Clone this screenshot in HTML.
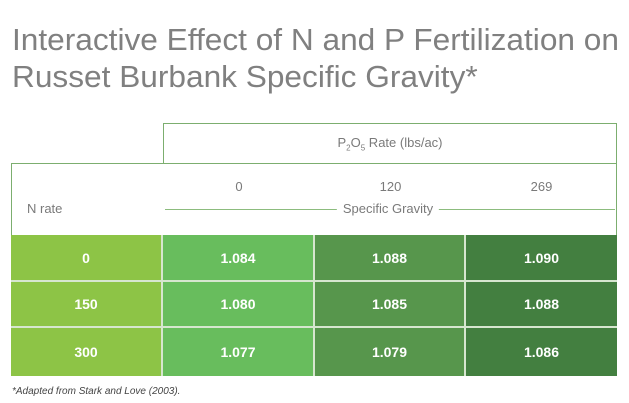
<!DOCTYPE html>
<html><head><meta charset="utf-8"><style>
body{margin:0;width:629px;height:403px;background:#fff;font-family:"Liberation Sans",sans-serif;position:relative;overflow:hidden}
.t{position:absolute;left:12px;font-size:31px;color:#808080;white-space:nowrap;transform:scaleX(1.02);transform-origin:left top;font-weight:300}
.abs{position:absolute}
.lbl{position:absolute;color:#7a7a7a;font-size:13px;white-space:nowrap;transform:translateX(-50%)}
.cell{position:absolute;color:#fff;font-size:14px;font-weight:bold;display:flex;align-items:center;justify-content:center;box-sizing:border-box;border-right:2px solid #d6e6cf;border-bottom:2px solid #d6e6cf}
</style></head><body>
<div class="t" style="top:22px">Interactive Effect of N and P Fertilization on</div>
<div class="t" style="top:59px">Russet Burbank Specific Gravity*</div>
<div class="abs" style="left:163px;top:123px;width:452px;height:40px;border:1px solid #7cae6f;border-bottom:none"></div>
<div class="lbl" style="left:390px;top:135px">P<sub style="font-size:8px">2</sub>O<sub style="font-size:8px">5</sub> Rate (lbs/ac)</div>
<div class="abs" style="left:11px;top:163px;width:604px;height:72px;border:1px solid #7cae6f;border-bottom:none"></div>
<div class="abs" style="left:27px;top:201px;color:#7a7a7a;font-size:13px">N rate</div>
<div class="abs" style="left:165px;top:209px;width:450px;height:1px;background:#8cbc7e"></div>
<div class="lbl" style="left:388px;top:201px;background:#fff;padding:0 6px">Specific Gravity</div>
<div id="tbl"></div>
<div class="abs" style="left:12px;top:386px;font-size:10px;font-style:italic;color:#444">*Adapted from Stark and Love (2003).</div>
<script>
const pRates=["0","120","269"];
const nRates=["0","150","300"];
const sgCol0=["1.084","1.080","1.077"];
const sgCol1=["1.088","1.085","1.079"];
const sgCol2=["1.090","1.088","1.086"];
const cols=[sgCol0,sgCol1,sgCol2];
const colX=[11,163,315,466,617];
const rowY=[235,282,328,376];
const colColors=["#8dc446","#68bd5d","#57964c","#437f40"];
const root=document.getElementById('tbl');
pRates.forEach((p,i)=>{
  const d=document.createElement('div');
  d.className='lbl';
  d.style.left=((colX[i+1]+colX[i+2])/2)+'px';d.style.top='179px';
  d.textContent=p;
  
  
  root.appendChild(d);
});
nRates.forEach((n,r)=>{
  for(let c=0;c<4;c++){
    const d=document.createElement('div');
    d.className='cell';
    d.style.left=colX[c]+'px';d.style.top=rowY[r]+'px';
    d.style.width=(colX[c+1]-colX[c])+'px';d.style.height=(rowY[r+1]-rowY[r])+'px';
    d.style.background=colColors[c];
    if(c==3)d.style.borderRight='none';
    if(r==2)d.style.borderBottom='none';
    d.textContent=c==0?n:cols[c-1][r];
    if(c==0){
      
    }else{
      
    }
    
    root.appendChild(d);
  }
});
</script>
</body></html>
